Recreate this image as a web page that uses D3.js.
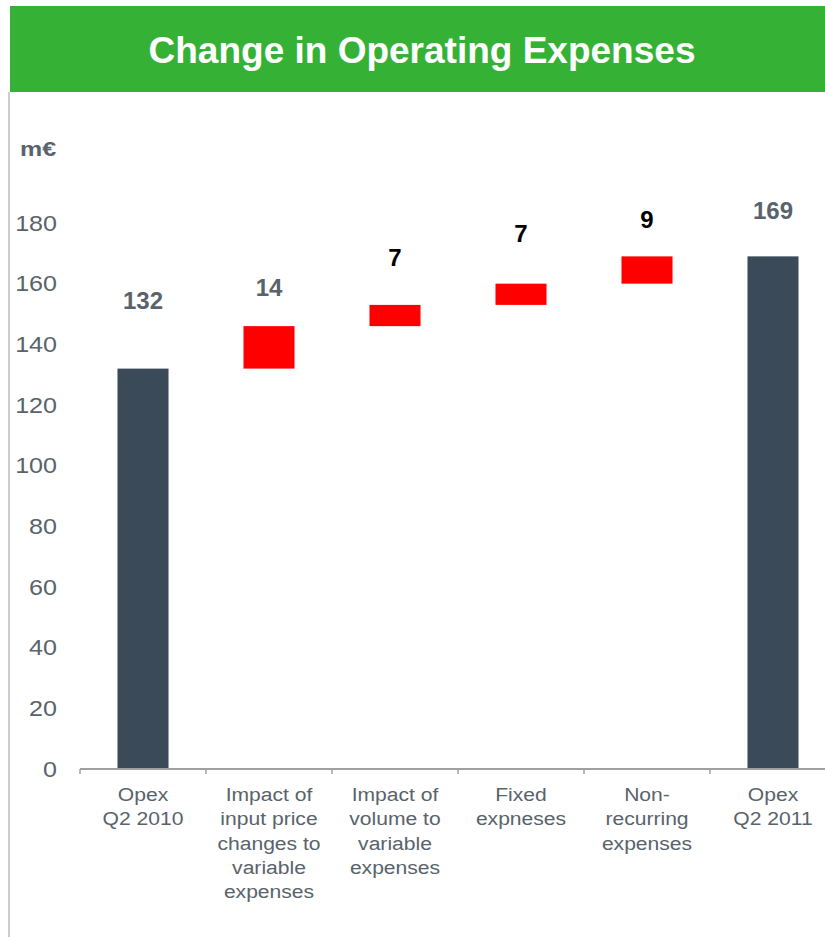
<!DOCTYPE html>
<html>
<head>
<meta charset="utf-8">
<script src="https://cdn.jsdelivr.net/npm/d3@7"></script>
<style>
  html, body { margin: 0; padding: 0; background: #fff; }
  svg { display: block; font-family: "Liberation Sans", Arial, sans-serif; }
</style>
</head>
<body>
<svg id="chart" width="825" height="937"></svg>
<script>
// Waterfall of operating expenses, Q2 2010 -> Q2 2011 (m€)
const categories = [
  "Opex|Q2 2010",
  "Impact of|input price|changes to|variable|expenses",
  "Impact of|volume to|variable|expenses",
  "Fixed|expneses",
  "Non-|recurring|expenses",
  "Opex|Q2 2011"
];
const values = [132, 14, 7, 7, 9, 169];
const kinds = ["total", "delta", "delta", "delta", "delta", "total"];
const yTicks = [0, 20, 40, 60, 80, 100, 120, 140, 160, 180];
// level (in m€) at which each value label sits
const labelLevels = [154.6, 158.9, 168.8, 176.7, 181.3, 184.1];

const GREY = "#59636b";
const DARK = "#3a4a58";
const RED = "#ff0000";
const labelInk = [GREY, GREY, "#000", "#000", "#000", GREY];
// axis text is set slightly wide
const WIDE = 1.14;

const svg = d3.select("#chart");

// header band
svg.append("rect").attr("x", 10).attr("y", 6).attr("width", 815).attr("height", 86)
  .attr("fill", "#35b236");
svg.append("text").attr("x", 422).attr("y", 63).attr("text-anchor", "middle")
  .attr("fill", "#fff").attr("font-weight", "bold").attr("font-size", 37)
  .text("Change in Operating Expenses");

// left frame rule
svg.append("line").attr("x1", 9).attr("x2", 9).attr("y1", 92).attr("y2", 937)
  .attr("stroke", "#cccccc").attr("stroke-width", 2);

// unit
svg.append("text").attr("transform", "translate(20,156) scale(1.25,1)")
  .attr("fill", GREY).attr("font-weight", "bold").attr("font-size", 20).text("m€");

// scales
const x = d3.scaleBand().domain(categories).range([80, 836]).padding(0);
const y = d3.scaleLinear().domain([0, 180]).range([769, 223]);
const barW = x.bandwidth() * 0.405;

// y axis labels only
const yAxis = d3.axisLeft(y).tickValues(yTicks).tickSize(0).tickPadding(0);
const gy = svg.append("g").attr("transform", "translate(57,0)").call(yAxis);
gy.select(".domain").remove();
gy.selectAll("text")
  .attr("x", 0)
  .attr("transform", `scale(${WIDE},1)`)
  .attr("font-size", 22).attr("fill", GREY)
  .attr("font-family", "'Liberation Sans', Arial, sans-serif");

// waterfall segments
let running = 0;
const segs = values.map((v, i) => {
  let lo, hi;
  if (kinds[i] === "total") { lo = 0; hi = v; running = v; }
  else { lo = running; hi = running + v; running = hi; }
  return { cat: categories[i], v, lo, hi, kind: kinds[i], i };
});

svg.append("g").selectAll("rect").data(segs).join("rect")
  .attr("x", d => x(d.cat) + (x.bandwidth() - barW) / 2)
  .attr("width", barW)
  .attr("y", d => y(d.hi))
  .attr("height", d => y(d.lo) - y(d.hi))
  .attr("fill", d => d.kind === "total" ? DARK : RED);

// value labels
svg.append("g").selectAll("text").data(segs).join("text")
  .attr("x", d => x(d.cat) + x.bandwidth() / 2)
  .attr("y", d => y(labelLevels[d.i]))
  .attr("dy", "0.36em")
  .attr("text-anchor", "middle")
  .attr("font-weight", "bold").attr("font-size", 24)
  .attr("fill", d => labelInk[d.i])
  .text(d => d.v);

// x axis: baseline with ticks at band boundaries
const xAxis = d3.axisBottom(x).tickSize(0).tickFormat("");
const gx = svg.append("g").attr("transform", `translate(0,${y(0)})`).call(xAxis);
gx.select(".domain").attr("stroke", "#a0a0a0").attr("stroke-width", 2)
  .attr("d", `M80,0H836`);
gx.selectAll(".tick").remove();
gx.selectAll("line.edge").data(categories).join("line").attr("class", "edge")
  .attr("x1", d => x(d)).attr("x2", d => x(d))
  .attr("y1", 0).attr("y2", 5)
  .attr("stroke", "#a0a0a0").attr("stroke-width", 1.5);

// category labels
const cl = svg.append("g").selectAll("text").data(categories).join("text")
  .attr("transform", d => `translate(${x(d) + x.bandwidth() / 2},801) scale(1.11,1)`)
  .attr("text-anchor", "middle")
  .attr("font-size", 19).attr("fill", GREY);
cl.selectAll("tspan").data(d => d.split("|"))
  .join("tspan")
  .attr("x", 0)
  .attr("dy", (d, i) => i === 0 ? 0 : 24.3)
  .text(d => d);
</script>
</body>
</html>
